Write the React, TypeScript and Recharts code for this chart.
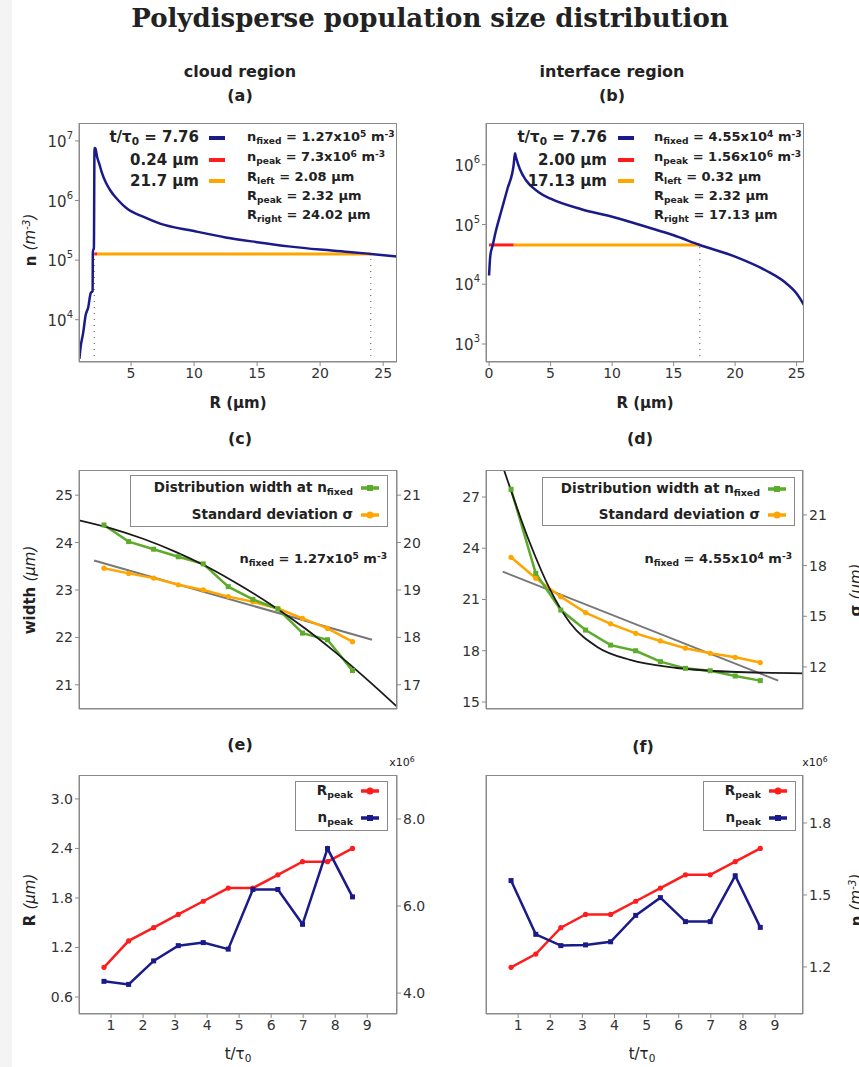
import React from 'react';
import { ComposedChart, Line, XAxis, YAxis, ReferenceLine } from 'recharts';

// ---------- data ----------
const tValues = [0.78, 1.55, 2.33, 3.1, 3.88, 4.66, 5.43, 6.21, 6.98, 7.76, 8.54];

const cloudR = [0.9, 1.0, 1.2, 1.4, 1.6, 1.8, 1.95, 1.97, 2.05, 2.1, 2.18, 2.3, 2.5, 2.67, 3.0, 3.33, 4.0, 4.65, 6, 7.3, 9.9, 12.5, 15, 17.5, 20, 22.5, 24.02, 26.1];
const cloudN = [2.2e3, 3.5e3, 6e3, 1.2e4, 1.6e4, 2.8e4, 3e4, 1.5e5, 1.5e5, 7.6e6, 7.4e6, 5.5e6, 4.0e6, 3.0e6, 2.0e6, 1.5e6, 1.0e6, 7.4e5, 5.3e5, 4.1e5, 3.1e5, 2.4e5, 2.0e5, 1.7e5, 1.5e5, 1.36e5, 1.27e5, 1.15e5];
const interR = [0, 0.1, 0.3, 0.5, 1.0, 1.5, 2.0, 2.1, 2.2, 2.5, 3, 4, 5, 7.5, 10, 12.9, 15, 17.13, 20, 22.5, 24, 25, 25.6];
const interN = [1.4e4, 3e4, 4.55e4, 7e4, 1.7e5, 4e5, 1.0e6, 1.56e6, 1.3e6, 8.5e5, 5.5e5, 3.5e5, 2.7e5, 1.8e5, 1.35e5, 9e4, 6.6e4, 4.55e4, 2.9e4, 1.7e4, 1.1e4, 7e3, 4.5e3];

const cloudFixed = 1.27e5;
const cloudLeft = 2.08;
const cloudPeakR = 2.32;
const cloudRight = 24.02;
const interFixed = 4.55e4;
const interLeft = 0.32;
const interPeakR = 2.0;
const interRight = 17.13;

const widthCloud = [24.37, 24.02, 23.86, 23.7, 23.55, 23.07, 22.8, 22.6, 22.09, 21.95, 21.3];
const sigmaCloud = [19.46, 19.35, 19.25, 19.11, 19.0, 18.86, 18.75, 18.61, 18.4, 18.19, 17.91];
const fitCloudX = [0, 1, 2, 3, 4, 5, 6, 7, 8, 9, 9.93];
const fitCloudY = [24.47, 24.3, 24.08, 23.81, 23.49, 23.11, 22.69, 22.22, 21.69, 21.11, 20.54];
const lineCloudX = [0.47, 9.15];
const lineCloudY = [23.62, 21.95];

const widthInter = [27.45, 22.53, 20.38, 19.21, 18.33, 18.0, 17.36, 16.97, 16.83, 16.52, 16.25];
const sigmaInter = [18.49, 17.25, 16.16, 15.22, 14.55, 13.99, 13.54, 13.11, 12.81, 12.57, 12.26];
const fitInterX = [0.56, 1.37, 2.0, 2.62, 3.45, 4.49, 5.94, 7.6, 9.87];
const fitInterY = [28.58, 24.29, 21.56, 19.62, 18.24, 17.46, 16.99, 16.77, 16.68];
const lineInterX = [0.52, 9.1];
const lineInterY = [22.63, 16.25];

const rPeakCloud = [0.96, 1.28, 1.44, 1.6, 1.76, 1.92, 1.92, 2.08, 2.24, 2.24, 2.4];
const nPeakCloud = [4.27, 4.2, 4.74, 5.09, 5.16, 5.01, 6.38, 6.38, 5.58, 7.32, 6.21];
const rPeakInter = [0.96, 1.12, 1.44, 1.6, 1.6, 1.76, 1.92, 2.08, 2.08, 2.24, 2.4];
const nPeakInter = [1.56, 1.336, 1.289, 1.292, 1.305, 1.415, 1.489, 1.389, 1.389, 1.58, 1.365];

const xTicks = [1, 2, 3, 4, 5, 6, 7, 8, 9];

// ---------- colours / styles ----------
const NAVY = '#1a1a8a';
const RED = '#ff1c1c';
const ORANGE = '#ffa500';
const GREEN = '#5dab2b';
const GREY = '#777';
const FRAME = '#8a8a8a';
const FONT = 'DejaVu Sans, sans-serif';
const tickStyle = { fontSize: 14, fill: '#333', fontFamily: FONT };

const zip = (xs: number[], ys: number[], kx: string, ky: string) => xs.map((x, i) => ({ [kx]: x, [ky]: ys[i] }));

const PowTick = (props: any) => {
  const { x, y, payload } = props;
  const e = Math.round(Math.log10(payload.value));
  return (
    <text x={x} y={y} dy={6} textAnchor="end" fontSize={15} fill="#333" fontFamily={FONT}>
      10<tspan dy={-8} fontSize={10}>{e}</tspan>
    </text>
  );
};

const SquareDot = (color: string) => (p: any) => {
  if (p.cx == null || p.cy == null) return null;
  return <rect key={p.index} x={p.cx - 2.5} y={p.cy - 2.5} width={5} height={5} fill={color} />;
};

function Frame({ l, t, w, h, children }: any) {
  return (
    <div style={{ position: 'absolute', left: l - 60, top: t - 10, width: w + 120, height: h + 40 }}>
      <ComposedChart width={w + 120} height={h + 40} margin={{ top: 10, right: 0, left: 0, bottom: 0 }}>
        {children}
      </ComposedChart>
      <div style={{ position: 'absolute', left: 60, top: 10, width: w, height: h, border: `1.5px solid ${FRAME}`, boxSizing: 'border-box', pointerEvents: 'none' }} />
    </div>
  );
}

function T({ x, y, children, size = 15, bold = true, anchor = 'middle', rotate = 0, family = FONT }: any) {
  const tx = anchor === 'middle' ? '-50%' : anchor === 'end' ? '-100%' : '0';
  return (
    <div style={{ position: 'absolute', left: x, top: y, transform: `translate(${tx},-50%) rotate(${rotate}deg)`, fontSize: size, fontWeight: bold ? 700 : 400, fontFamily: family, color: '#222', whiteSpace: 'nowrap', lineHeight: 1 }}>
      {children}
    </div>
  );
}

const sub = (s: string) => <sub style={{ fontSize: '0.7em', verticalAlign: '-0.3em' }}>{s}</sub>;
const sup = (s: string) => <sup style={{ fontSize: '0.7em', verticalAlign: '0.5em' }}>{s}</sup>;

function Sample({ color, square, dot = true }: any) {
  return (
    <svg width={22} height={10} style={{ verticalAlign: 'middle', marginLeft: 6 }}>
      <line x1={2} y1={5} x2={20} y2={5} stroke={color} strokeWidth={3.5} />
      {dot && (square ? <rect x={8} y={2} width={6} height={6} fill={color} /> : <circle cx={11} cy={5} r={3.5} fill={color} />)}
    </svg>
  );
}

function LegendBox({ l, t, w, h, rows }: any) {
  return (
    <div style={{ position: 'absolute', left: l, top: t, width: w, height: h, border: `1.5px solid ${FRAME}`, background: 'white', boxSizing: 'border-box', display: 'flex', flexDirection: 'column', justifyContent: 'center', alignItems: 'flex-end', paddingRight: 6, fontFamily: FONT, fontWeight: 700, fontSize: 13.5, color: '#222', gap: 2 }}>
      {rows.map((r: any, i: number) => (
        <div key={i} style={{ whiteSpace: 'nowrap', lineHeight: '21px' }}>{r.label}<Sample color={r.color} square={r.square} /></div>
      ))}
    </div>
  );
}

function TopLegend({ endX, sampleX, colX, rows, right }: any) {
  const ys = [138, 160, 181];
  const ry = [138, 158, 178, 197, 216];
  return (
    <>
      {rows.map((r: any, i: number) => (
        <React.Fragment key={i}>
          <T x={endX} y={ys[i]} anchor="end" size={15}>{r.label}</T>
          <div style={{ position: 'absolute', left: sampleX, top: ys[i] - 2, width: 16, height: 4, background: r.color }} />
        </React.Fragment>
      ))}
      {right.map((r: any, i: number) => (
        <T key={'r' + i} x={colX} y={ry[i]} anchor="start" size={13}>{r}</T>
      ))}
    </>
  );
}

export default function App() {
  const cloudData = zip(cloudR, cloudN, 'R', 'n');
  const interData = zip(interR, interN, 'R', 'n');
  const cRed = [{ R: cloudLeft, n: cloudFixed }, { R: cloudPeakR, n: cloudFixed }];
  const cOrange = [{ R: cloudPeakR, n: cloudFixed }, { R: cloudRight, n: cloudFixed }];
  const iRed = [{ R: interLeft - 0.32, n: interFixed }, { R: interPeakR, n: interFixed }];
  const iOrange = [{ R: interPeakR, n: interFixed }, { R: interRight, n: interFixed }];

  const cRows = tValues.map((t, i) => ({ t, w: widthCloud[i], s: sigmaCloud[i] }));
  const dRows = tValues.map((t, i) => ({ t, w: widthInter[i], s: sigmaInter[i] }));
  const eRows = tValues.map((t, i) => ({ t, r: rPeakCloud[i], n: nPeakCloud[i] }));
  const fRows = tValues.map((t, i) => ({ t, r: rPeakInter[i], n: nPeakInter[i] }));

  const noAxis = { tick: false, axisLine: false, tickLine: false } as any;
  const ax = { stroke: FRAME, tick: tickStyle, tickSize: 4 } as any;
  const circ = (c: string) => ({ r: 2.6, fill: c, stroke: c, strokeWidth: 0 });

  return (
    <div style={{ position: 'absolute', left: 0, top: 0, width: 859, height: 1067, overflow: 'hidden', background: '#f4f4f4' }}>
      <div style={{ position: 'absolute', left: 12, top: 0, width: 847, height: 1067, background: 'white' }} />

      <T x={430} y={18} size={26} family="DejaVu Serif, serif">Polydisperse population size distribution</T>
      <T x={240} y={72} size={16}>cloud region</T>
      <T x={240} y={96} size={16}>(a)</T>
      <T x={612} y={72} size={16}>interface region</T>
      <T x={612} y={96} size={16}>(b)</T>

      {/* (a) */}
      <Frame l={79} t={123} w={318} h={239}>
        <XAxis dataKey="R" type="number" domain={[0.87, 26.1]} ticks={[5, 10, 15, 20, 25]} height={30} {...ax} allowDataOverflow />
        <YAxis yAxisId="l" scale="log" domain={[1950, 2e7]} ticks={[1e4, 1e5, 1e6, 1e7]} width={60} allowDataOverflow {...ax} tick={<PowTick />} />
        <YAxis yAxisId="r" orientation="right" width={60} {...noAxis} />
        <ReferenceLine yAxisId="l" segment={[{ x: cloudLeft, y: 1950 }, { x: cloudLeft, y: cloudFixed }]} stroke="#555" strokeDasharray="1 5" />
        <ReferenceLine yAxisId="l" segment={[{ x: cloudRight, y: 1950 }, { x: cloudRight, y: cloudFixed }]} stroke="#555" strokeDasharray="1 5" />
        <Line yAxisId="l" data={cOrange} dataKey="n" stroke={ORANGE} strokeWidth={3} dot={false} isAnimationActive={false} />
        <Line yAxisId="l" data={cRed} dataKey="n" stroke={RED} strokeWidth={3} dot={false} isAnimationActive={false} />
        <Line yAxisId="l" data={cloudData} dataKey="n" type="monotone" stroke={NAVY} strokeWidth={2.5} dot={false} isAnimationActive={false} />
      </Frame>
      <TopLegend endX={199} sampleX={209} colX={247}
        rows={[{ label: <>t/τ{sub('0')} = 7.76</>, color: NAVY }, { label: '0.24 μm', color: RED }, { label: '21.7 μm', color: ORANGE }]}
        right={[<>n{sub('fixed')} = 1.27x10{sup('5')} m{sup('-3')}</>, <>n{sub('peak')} = 7.3x10{sup('6')} m{sup('-3')}</>, <>R{sub('left')} = 2.08 μm</>, <>R{sub('peak')} = 2.32 μm</>, <>R{sub('right')} = 24.02 μm</>]} />
      <T x={30} y={240} rotate={-90} size={15}>n <i style={{ fontWeight: 400 }}>(m{sup('-3')})</i></T>
      <T x={238} y={403} size={15}>R (μm)</T>

      {/* (b) */}
      <Frame l={486} t={123} w={318} h={239}>
        <XAxis dataKey="R" type="number" domain={[-0.25, 25.6]} ticks={[0, 5, 10, 15, 20, 25]} height={30} {...ax} allowDataOverflow />
        <YAxis yAxisId="l" scale="log" domain={[500, 5e6]} ticks={[1e3, 1e4, 1e5, 1e6]} width={60} allowDataOverflow {...ax} tick={<PowTick />} />
        <YAxis yAxisId="r" orientation="right" width={60} {...noAxis} />
        <ReferenceLine yAxisId="l" segment={[{ x: interRight, y: 500 }, { x: interRight, y: interFixed }]} stroke="#555" strokeDasharray="1 5" />
        <Line yAxisId="l" data={iOrange} dataKey="n" stroke={ORANGE} strokeWidth={3} dot={false} isAnimationActive={false} />
        <Line yAxisId="l" data={iRed} dataKey="n" stroke={RED} strokeWidth={3} dot={false} isAnimationActive={false} />
        <Line yAxisId="l" data={interData} dataKey="n" type="monotone" stroke={NAVY} strokeWidth={2.5} dot={false} isAnimationActive={false} />
      </Frame>
      <TopLegend endX={607} sampleX={618} colX={654}
        rows={[{ label: <>t/τ{sub('0')} = 7.76</>, color: NAVY }, { label: '2.00 μm', color: RED }, { label: '17.13 μm', color: ORANGE }]}
        right={[<>n{sub('fixed')} = 4.55x10{sup('4')} m{sup('-3')}</>, <>n{sub('peak')} = 1.56x10{sup('6')} m{sup('-3')}</>, <>R{sub('left')} = 0.32 μm</>, <>R{sub('peak')} = 2.32 μm</>, <>R{sub('right')} = 17.13 μm</>]} />
      <T x={645} y={403} size={15}>R (μm)</T>

      <T x={240} y={439} size={16}>(c)</T>
      <T x={640} y={439} size={16}>(d)</T>

      {/* (c) */}
      <Frame l={79} t={470} w={318} h={239}>
        <XAxis dataKey="t" type="number" domain={[0, 9.93]} ticks={xTicks} height={30} {...ax} tick={false} allowDataOverflow />
        <YAxis yAxisId="l" domain={[20.49, 25.53]} ticks={[21, 22, 23, 24, 25]} width={60} allowDataOverflow {...ax} />
        <YAxis yAxisId="r" orientation="right" domain={[16.49, 21.53]} ticks={[17, 18, 19, 20, 21]} width={60} allowDataOverflow {...ax} />
        <Line yAxisId="l" data={zip(lineCloudX, lineCloudY, 't', 'v')} dataKey="v" stroke={GREY} strokeWidth={2} dot={false} isAnimationActive={false} />
        <Line yAxisId="r" data={cRows} dataKey="s" stroke={ORANGE} strokeWidth={2.5} dot={circ(ORANGE)} isAnimationActive={false} />
        <Line yAxisId="l" data={cRows} dataKey="w" stroke={GREEN} strokeWidth={2.5} dot={SquareDot(GREEN)} isAnimationActive={false} />
        <Line yAxisId="l" data={zip(fitCloudX, fitCloudY, 't', 'v')} dataKey="v" type="monotone" stroke="#1a1a1a" strokeWidth={1.8} dot={false} isAnimationActive={false} />
      </Frame>
      <LegendBox l={130} t={475} w={258} h={52} rows={[
        { label: <>Distribution width at n{sub('fixed')}</>, color: GREEN, square: true },
        { label: <>Standard deviation σ</>, color: ORANGE }]} />
      <T x={387} y={560} anchor="end" size={13}>n{sub('fixed')} = 1.27x10{sup('5')} m{sup('-3')}</T>
      <T x={30} y={590} rotate={-90} size={15}>width <i style={{ fontWeight: 400 }}>(μm)</i></T>

      {/* (d) */}
      <Frame l={486} t={470} w={317} h={239}>
        <XAxis dataKey="t" type="number" domain={[0, 9.87]} ticks={xTicks} height={30} {...ax} tick={false} allowDataOverflow />
        <YAxis yAxisId="l" domain={[14.59, 28.58]} ticks={[15, 18, 21, 24, 27]} width={60} allowDataOverflow {...ax} />
        <YAxis yAxisId="r" orientation="right" domain={[9.51, 23.66]} ticks={[12, 15, 18, 21]} width={60} allowDataOverflow {...ax} />
        <Line yAxisId="l" data={zip(lineInterX, lineInterY, 't', 'v')} dataKey="v" stroke={GREY} strokeWidth={2} dot={false} isAnimationActive={false} />
        <Line yAxisId="r" data={dRows} dataKey="s" stroke={ORANGE} strokeWidth={2.5} dot={circ(ORANGE)} isAnimationActive={false} />
        <Line yAxisId="l" data={dRows} dataKey="w" stroke={GREEN} strokeWidth={2.5} dot={SquareDot(GREEN)} isAnimationActive={false} />
        <Line yAxisId="l" data={zip(fitInterX, fitInterY, 't', 'v')} dataKey="v" type="monotone" stroke="#1a1a1a" strokeWidth={1.8} dot={false} isAnimationActive={false} />
      </Frame>
      <LegendBox l={542} t={477} w={253} h={49} rows={[
        { label: <>Distribution width at n{sub('fixed')}</>, color: GREEN, square: true },
        { label: <>Standard deviation σ</>, color: ORANGE }]} />
      <T x={792} y={560} anchor="end" size={13}>n{sub('fixed')} = 4.55x10{sup('4')} m{sup('-3')}</T>
      <T x={856} y={590} rotate={-90} size={15}>σ <i style={{ fontWeight: 400 }}>(μm)</i></T>

      <T x={240} y={745} size={16}>(e)</T>
      <T x={643} y={747} size={16}>(f)</T>

      {/* (e) */}
      <Frame l={79} t={775} w={318} h={239}>
        <XAxis dataKey="t" type="number" domain={[0, 9.93]} ticks={xTicks} height={30} {...ax} allowDataOverflow />
        <YAxis yAxisId="l" domain={[0.394, 3.29]} ticks={[0.6, 1.2, 1.8, 2.4, 3.0]} tickFormatter={(v: number) => v.toFixed(1)} width={60} allowDataOverflow {...ax} />
        <YAxis yAxisId="r" orientation="right" domain={[3.52, 9.01]} ticks={[4, 6, 8]} tickFormatter={(v: number) => v.toFixed(1)} width={60} allowDataOverflow {...ax} />
        <Line yAxisId="l" data={eRows} dataKey="r" stroke={RED} strokeWidth={2.5} dot={circ(RED)} isAnimationActive={false} />
        <Line yAxisId="r" data={eRows} dataKey="n" stroke={NAVY} strokeWidth={2.5} dot={SquareDot(NAVY)} isAnimationActive={false} />
      </Frame>
      <LegendBox l={295} t={781} w={93} h={50} rows={[
        { label: <>R{sub('peak')}</>, color: RED },
        { label: <>n{sub('peak')}</>, color: NAVY, square: true }]} />
      <T x={402} y={762} bold={false} size={11}>x10{sup('6')}</T>
      <T x={30} y={900} rotate={-90} size={15}>R <i style={{ fontWeight: 400 }}>(μm)</i></T>
      <T x={238} y={1055} size={15} bold={false}>t/τ{sub('0')}</T>

      {/* (f) */}
      <Frame l={486} t={775} w={317} h={239}>
        <XAxis dataKey="t" type="number" domain={[0, 9.87]} ticks={xTicks} height={30} {...ax} allowDataOverflow />
        <YAxis yAxisId="l" domain={[0.394, 3.29]} ticks={[0.6, 1.2, 1.8, 2.4, 3.0]} width={60} allowDataOverflow {...ax} tick={false} />
        <YAxis yAxisId="r" orientation="right" domain={[1.004, 2.0]} ticks={[1.2, 1.5, 1.8]} tickFormatter={(v: number) => v.toFixed(1)} width={60} allowDataOverflow {...ax} />
        <Line yAxisId="l" data={fRows} dataKey="r" stroke={RED} strokeWidth={2.5} dot={circ(RED)} isAnimationActive={false} />
        <Line yAxisId="r" data={fRows} dataKey="n" stroke={NAVY} strokeWidth={2.5} dot={SquareDot(NAVY)} isAnimationActive={false} />
      </Frame>
      <LegendBox l={703} t={781} w={93} h={50} rows={[
        { label: <>R{sub('peak')}</>, color: RED },
        { label: <>n{sub('peak')}</>, color: NAVY, square: true }]} />
      <T x={815} y={762} bold={false} size={11}>x10{sup('6')}</T>
      <T x={856} y={900} rotate={-90} size={15}>n <i style={{ fontWeight: 400 }}>(m{sup('-3')})</i></T>
      <T x={642} y={1055} size={15} bold={false}>t/τ{sub('0')}</T>
    </div>
  );
}
